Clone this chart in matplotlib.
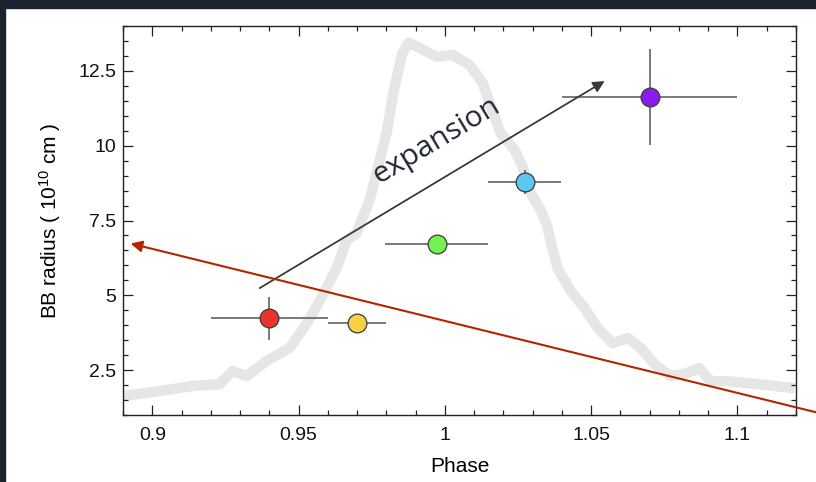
import numpy as np
import matplotlib.pyplot as plt
from matplotlib.patches import Rectangle
from matplotlib.ticker import MultipleLocator

plt.rcParams['mathtext.fontset'] = 'custom'
plt.rcParams['mathtext.rm'] = 'Liberation Sans'
plt.rcParams['mathtext.it'] = 'Liberation Sans:italic'
plt.rcParams['mathtext.bf'] = 'Liberation Sans:bold'

# Radio de cuerpo negro vs fase
phase = [0.940, 0.970, 0.9973, 1.0273, 1.070]
radius = [4.23, 4.08, 6.72, 8.79, 11.62]
phase_err = [0.020, 0.010, 0.0176, 0.0125, 0.030]
radius_err = [0.73, 0.15, 0.15, 0.40, 1.60]
colors = ['#e8342a', '#f7d043', '#72f24c', '#5bc7f2', '#8b1cf0']

# Curva de luz (escalada) de fondo
curve_phase = [0.8898, 0.9025, 0.9138, 0.9230, 0.9274, 0.9322, 0.9390, 0.9469,
               0.9527, 0.9572, 0.9630, 0.9664, 0.9698, 0.9743, 0.9801, 0.9828,
               0.9855, 0.9876, 0.9907, 0.9972, 1.0026, 1.0084, 1.0129, 1.0153,
               1.0190, 1.0238, 1.0266, 1.0293, 1.0327, 1.0351, 1.0361, 1.0385,
               1.0430, 1.0477, 1.0522, 1.0573, 1.0625, 1.0669, 1.0717, 1.0771,
               1.0819, 1.0870, 1.0908, 1.0966, 1.1069, 1.1195]
curve_level = [1.63, 1.80, 1.97, 2.03, 2.47, 2.30, 2.80, 3.24,
               4.04, 4.81, 5.91, 6.82, 7.08, 8.19, 10.43, 11.97,
               13.10, 13.44, 13.30, 12.97, 13.04, 12.70, 12.10, 11.43,
               10.43, 9.86, 9.29, 8.42, 7.85, 7.28, 6.82, 5.91,
               5.14, 4.58, 3.91, 3.40, 3.57, 3.24, 2.70, 2.30,
               2.37, 2.57, 2.13, 2.13, 2.03, 1.90]

# Flechas
expansion_start = (0.9367, 5.24)
expansion_end = (1.0546, 12.16)
red_start = (1.1267, 1.095)
red_end = (0.8926, 6.73)

fig = plt.figure(figsize=(8.16, 4.82), dpi=100)
fig.patches.append(Rectangle((0, 1 - 8 / 482), 1, 8 / 482, transform=fig.transFigure,
                             color='#1b2230', zorder=0))
fig.patches.append(Rectangle((0, 0), 5 / 816, 1, transform=fig.transFigure,
                             color='#1b2230', zorder=0))

ax = fig.add_axes([123 / 816, 1 - 415 / 482, 673 / 816, 389 / 482])

ax.plot(curve_phase, curve_level, color='#e6e6e6', lw=7.5, solid_joinstyle='round',
        solid_capstyle='butt', zorder=1)

for x, y, ex, ey, c in zip(phase, radius, phase_err, radius_err, colors):
    ax.errorbar(x, y, xerr=ex, yerr=ey, fmt='o', ms=13.5, mfc=c, mec='#3a3a3a',
                mew=0.9, ecolor='#555555', elinewidth=1.1, capsize=0, zorder=3)

ax.annotate('', xy=expansion_end, xytext=expansion_start,
            arrowprops=dict(arrowstyle='-|>', color='#3a3a3a', lw=1.3,
                            mutation_scale=17, shrinkA=0, shrinkB=0), zorder=4)
ax.text(0.9970, 10.17, 'expansion', family='Open Sans', fontsize=21.5,
        color='#1e2533', rotation=31, rotation_mode='anchor',
        ha='center', va='center', zorder=5)

ax.annotate('', xy=red_end, xytext=red_start, annotation_clip=False,
            arrowprops=dict(arrowstyle='-|>', color='#b32400', lw=1.5,
                            mutation_scale=17, shrinkA=0, shrinkB=0,
                            clip_on=False), zorder=6)

ax.set_xlim(0.89, 1.12)
ax.set_ylim(1.0, 14.0)
ax.xaxis.set_minor_locator(MultipleLocator(0.01))
ax.yaxis.set_minor_locator(MultipleLocator(0.5))
ax.set_xticks([0.9, 0.95, 1.0, 1.05, 1.1])
ax.set_xticklabels(['0.9', '0.95', '1', '1.05', '1.1'])
ax.set_yticks([2.5, 5, 7.5, 10, 12.5])
ax.set_yticklabels(['2.5', '5', '7.5', '10', '12.5'])

ax.tick_params(which='both', direction='in', top=True, right=True, width=0.9,
               color='#222222', labelcolor='#111111')
ax.tick_params(which='major', length=7.5)
ax.tick_params(which='minor', length=3.5)
ax.tick_params(axis='x', labelsize=14, pad=9)
ax.tick_params(axis='y', labelsize=14, pad=5)
for tl in ax.get_xticklabels() + ax.get_yticklabels():
    tl.set_family('Liberation Sans')
for s in ax.spines.values():
    s.set_linewidth(1.0)
    s.set_color('#222222')

ax.set_xlabel('Phase', family='Liberation Sans', fontsize=15, labelpad=9)
ax.set_ylabel('BB radius ( 10$^{10}$ cm )', family='Liberation Sans', fontsize=15,
              labelpad=11)

fig.savefig('out.png', dpi=100)
